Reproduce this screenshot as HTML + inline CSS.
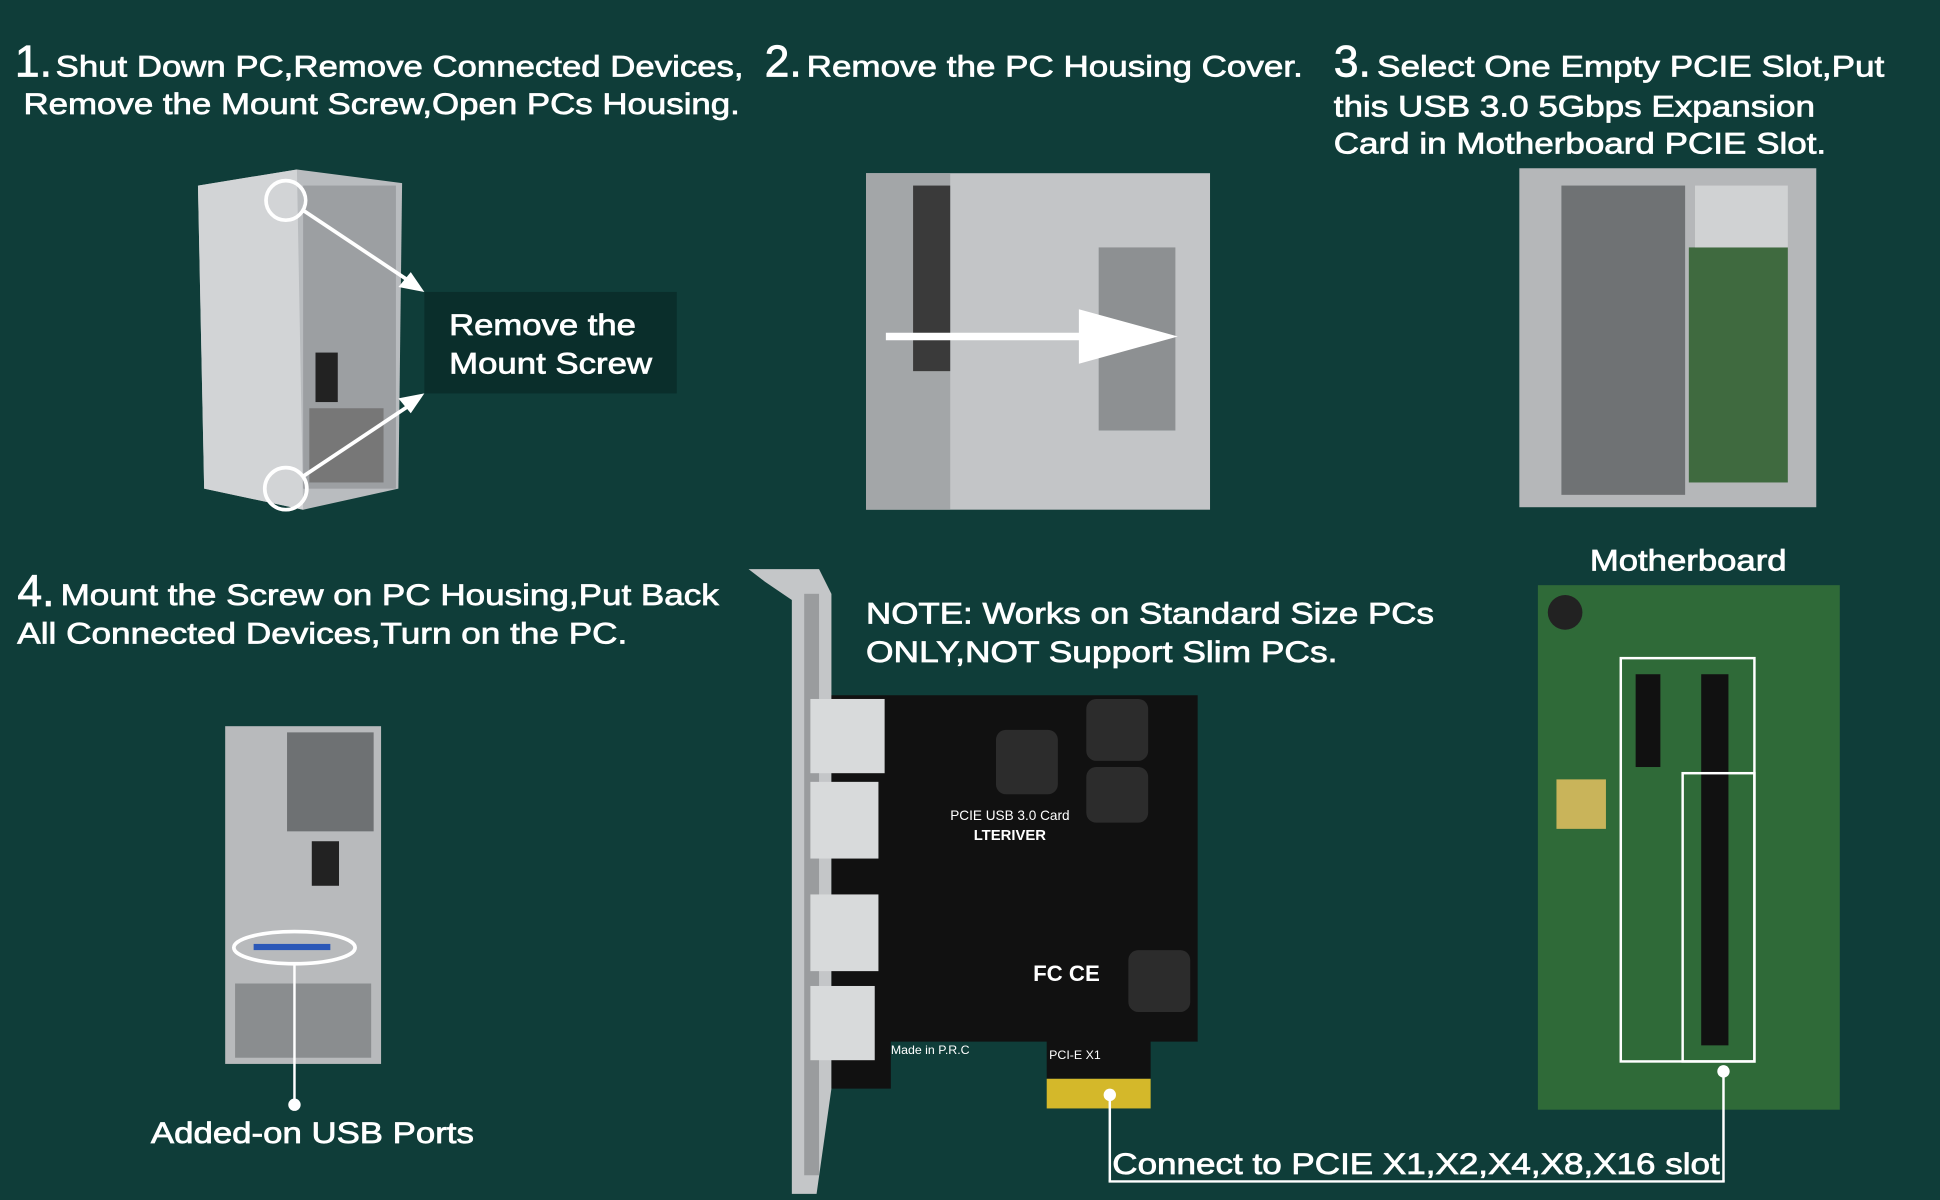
<!DOCTYPE html>
<html><head><meta charset="utf-8"><style>
html,body{margin:0;padding:0;background:#0f3d39;}
svg{display:block}
text{font-family:"Liberation Sans",Arial,sans-serif;fill:#fff}
.t{stroke:#fff;stroke-width:0.6}
</style></head><body>
<svg width="1940" height="1200" viewBox="0 0 1568 970" preserveAspectRatio="none" xmlns="http://www.w3.org/2000/svg">
<rect width="1568" height="970" fill="#0f3d39"/>
<!-- headings -->
<text x="12" y="62" font-size="36" class="t">1.</text>
<text x="45" y="62" font-size="24" class="t" textLength="556" lengthAdjust="spacingAndGlyphs">Shut Down PC,Remove Connected Devices,</text>
<text x="19" y="92" font-size="24" class="t" textLength="579" lengthAdjust="spacingAndGlyphs">Remove the Mount Screw,Open PCs Housing.</text>
<text x="618" y="62" font-size="36" class="t">2.</text>
<text x="652" y="62" font-size="24" class="t" textLength="401" lengthAdjust="spacingAndGlyphs">Remove the PC Housing Cover.</text>
<text x="1078" y="62" font-size="36" class="t">3.</text>
<text x="1113" y="62" font-size="24" class="t" textLength="410" lengthAdjust="spacingAndGlyphs">Select One Empty PCIE Slot,Put</text>
<text x="1078" y="94" font-size="24" class="t" textLength="389" lengthAdjust="spacingAndGlyphs">this USB 3.0 5Gbps Expansion</text>
<text x="1078" y="124" font-size="24" class="t" textLength="398" lengthAdjust="spacingAndGlyphs">Card in Motherboard PCIE Slot.</text>
<text x="14" y="490" font-size="36" class="t">4.</text>
<text x="49" y="489" font-size="24" class="t" textLength="532" lengthAdjust="spacingAndGlyphs">Mount the Screw on PC Housing,Put Back</text>
<text x="14" y="520" font-size="24" class="t" textLength="493" lengthAdjust="spacingAndGlyphs">All Connected Devices,Turn on the PC.</text>
<text x="700" y="504" font-size="24" class="t" textLength="459" lengthAdjust="spacingAndGlyphs">NOTE: Works on Standard Size PCs</text>
<text x="700" y="535" font-size="24" class="t" textLength="381" lengthAdjust="spacingAndGlyphs">ONLY,NOT Support Slim PCs.</text>
<text x="1285" y="461" font-size="24" class="t" textLength="159" lengthAdjust="spacingAndGlyphs">Motherboard</text>

<!-- PC 1 -->
<polygon points="160,150 240,137 325,148 322,395 245,412 165,395" fill="#b9bcbf"/>
<polygon points="160,150 240,137 245,412 165,395" fill="#d2d4d6"/>
<rect x="245" y="150" width="75" height="245" fill="#9c9fa2"/>
<rect x="255" y="285" width="18" height="40" fill="#222"/>
<rect x="250" y="330" width="60" height="60" fill="#777"/>
<circle cx="231" cy="162" r="16" fill="none" stroke="#fff" stroke-width="3"/>
<circle cx="231" cy="395" r="17" fill="none" stroke="#fff" stroke-width="3"/>
<line x1="245" y1="170" x2="335" y2="230" stroke="#fff" stroke-width="3"/>
<polygon points="343,236 322,232 332,220" fill="#fff"/>
<line x1="245" y1="385" x2="335" y2="325" stroke="#fff" stroke-width="3"/>
<polygon points="343,318 332,334 322,322" fill="#fff"/>
<rect x="343" y="236" width="204" height="82" fill="#0a2e2b"/>
<text x="363" y="271" font-size="24" class="t" textLength="151" lengthAdjust="spacingAndGlyphs">Remove the</text>
<text x="363" y="302" font-size="24" class="t" textLength="164" lengthAdjust="spacingAndGlyphs">Mount Screw</text>

<!-- PC 2 -->
<rect x="700" y="140" width="278" height="272" fill="#c3c5c7"/>
<rect x="700" y="140" width="68" height="272" fill="#a3a6a8"/>
<rect x="888" y="200" width="62" height="148" fill="#8d9092"/>
<rect x="738" y="150" width="30" height="150" fill="#3a3a3a"/>
<line x1="716" y1="272" x2="880" y2="272" stroke="#fff" stroke-width="6"/>
<polygon points="872,250 952,272 872,294" fill="#fff"/>

<!-- PC 3 -->
<rect x="1228" y="136" width="240" height="274" fill="#b5b7b9"/>
<rect x="1262" y="150" width="100" height="250" fill="#6f7274"/>
<rect x="1365" y="200" width="80" height="190" fill="#3f6a3f"/>
<rect x="1370" y="150" width="75" height="50" fill="#d0d2d3"/>

<!-- motherboard -->
<rect x="1243" y="473" width="244" height="424" fill="#2f6a38"/>
<rect x="1375" y="545" width="22" height="300" fill="#111"/>
<rect x="1322" y="545" width="20" height="75" fill="#111"/>
<rect x="1310" y="532" width="108" height="326" fill="none" stroke="#fff" stroke-width="2"/>
<rect x="1360" y="625" width="58" height="233" fill="none" stroke="#fff" stroke-width="2"/>
<rect x="1258" y="630" width="40" height="40" fill="#c9b45a"/>
<circle cx="1265" cy="495" r="14" fill="#222"/>

<!-- PC 4 -->
<rect x="182" y="587" width="126" height="273" fill="#b8babc"/>
<rect x="232" y="592" width="70" height="80" fill="#6e7173"/>
<rect x="252" y="680" width="22" height="36" fill="#222"/>
<rect x="190" y="795" width="110" height="60" fill="#8a8d8f"/>
<ellipse cx="238" cy="766" rx="49" ry="13" fill="none" stroke="#fff" stroke-width="3"/>
<rect x="205" y="763" width="62" height="5" fill="#2b58b8"/>
<line x1="238" y1="779" x2="238" y2="893" stroke="#fff" stroke-width="2"/>
<circle cx="238" cy="893" r="5" fill="#fff"/>
<text x="122" y="924" font-size="24" class="t" textLength="261" lengthAdjust="spacingAndGlyphs">Added-on USB Ports</text>

<!-- card -->
<polygon points="605,460 662,460 672,480 672,880 660,965 640,965 640,485 618,470" fill="#c4c6c8"/>
<rect x="650" y="480" width="12" height="470" fill="#9a9c9e"/>
<polygon points="672,562 968,562 968,842 930,842 930,872 846,872 846,842 720,842 720,880 672,880" fill="#111"/>
<rect x="846" y="872" width="84" height="24" fill="#d4b82a"/>
<g fill="#d8dadb">
<rect x="655" y="565" width="60" height="60"/><rect x="655" y="632" width="55" height="62"/>
<rect x="655" y="723" width="55" height="62"/><rect x="655" y="797" width="52" height="60"/>
</g>
<g fill="#2c2c2c"><rect x="805" y="590" width="50" height="52" rx="8"/><rect x="878" y="565" width="50" height="50" rx="8"/><rect x="878" y="620" width="50" height="45" rx="8"/><rect x="912" y="768" width="50" height="50" rx="8"/></g>
<text x="768" y="663" font-size="11" font-family="Liberation Serif">PCIE USB 3.0 Card</text>
<text x="787" y="679" font-size="12" font-weight="bold">LTERIVER</text>
<text x="835" y="793" font-size="18" font-weight="bold">FC CE</text>
<text x="720" y="852" font-size="10" font-family="Liberation Serif">Made in P.R.C</text>
<text x="848" y="856" font-size="10" font-family="Liberation Serif">PCI-E X1</text>

<!-- connector lines -->
<circle cx="897" cy="885" r="5" fill="#fff"/>
<line x1="897" y1="885" x2="897" y2="955" stroke="#fff" stroke-width="2"/>
<circle cx="1393" cy="866" r="5" fill="#fff"/>
<line x1="1393" y1="866" x2="1393" y2="955" stroke="#fff" stroke-width="2"/>
<line x1="896" y1="955" x2="1394" y2="955" stroke="#fff" stroke-width="2"/>
<text x="899" y="949" font-size="24" class="t" textLength="491" lengthAdjust="spacingAndGlyphs">Connect to PCIE X1,X2,X4,X8,X16 slot</text>
</svg>
</body></html>
